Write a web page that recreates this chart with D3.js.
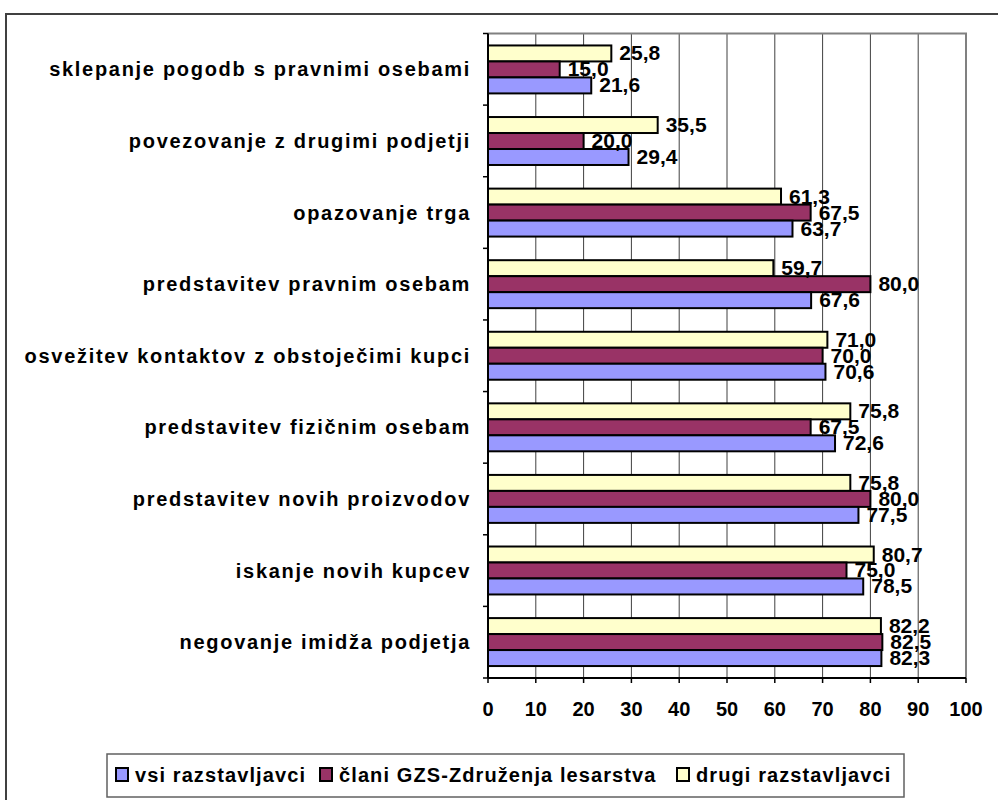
<!DOCTYPE html>
<html>
<head>
<meta charset="utf-8">
<script src="https://cdn.jsdelivr.net/npm/d3@7"></script>
<style>
  html, body { margin: 0; padding: 0; background: #fff; }
  svg { display: block; font-family: "Liberation Sans", Arial, sans-serif; font-weight: bold; }
</style>
</head>
<body>
<svg id="chart" width="998" height="800"></svg>
<script>
const categories = [
  "sklepanje pogodb s pravnimi osebami",
  "povezovanje z drugimi podjetji",
  "opazovanje trga",
  "predstavitev pravnim osebam",
  "osvežitev kontaktov z obstoječimi kupci",
  "predstavitev fizičnim osebam",
  "predstavitev novih proizvodov",
  "iskanje novih kupcev",
  "negovanje imidža podjetja"
];
const vsi   = [21.6, 29.4, 63.7, 67.6, 70.6, 72.6, 77.5, 78.5, 82.3];
const clani = [15.0, 20.0, 67.5, 80.0, 70.0, 67.5, 80.0, 75.0, 82.5];
const drugi = [25.8, 35.5, 61.3, 59.7, 71.0, 75.8, 75.8, 80.7, 82.2];
const seriesNames = ["vsi razstavljavci", "člani GZS-Združenja lesarstva", "drugi razstavljavci"];
const xTicks = [0, 10, 20, 30, 40, 50, 60, 70, 80, 90, 100];

const colors = { vsi: "#9999FF", clani: "#993366", drugi: "#FFFFCC" };
const series = [
  { key: "drugi", values: drugi },
  { key: "clani", values: clani },
  { key: "vsi", values: vsi }
];

const svg = d3.select("#chart");
svg.append("rect").attr("width", 998).attr("height", 800).attr("fill", "#fff");

// outer chart border
svg.append("rect").attr("x", 6).attr("y", 14).attr("width", 1100).attr("height", 900)
  .attr("fill", "none").attr("stroke", "#404040").attr("stroke-width", 2);

const pLeft = 488, pRight = 966, pTop = 33.5, pBottom = 678;
const x = d3.scaleLinear().domain([0, 100]).range([pLeft, pRight]);
const y = d3.scaleBand().domain(categories).range([pTop, pBottom]).paddingInner(0.33).paddingOuter(0.167);
const yOuter = d3.scaleBand().domain(categories).range([pTop, pBottom]);
const ySub = d3.scaleBand().domain(series.map(s => s.key)).range([0, y.bandwidth()]);

// gridlines
svg.append("g").selectAll("line").data(xTicks.filter(t => t > 0 && t < 100)).join("line")
  .attr("x1", d => x(d)).attr("x2", d => x(d)).attr("y1", pTop).attr("y2", pBottom)
  .attr("stroke", "#404040").attr("stroke-width", 1);

// plot border top/right
svg.append("path")
  .attr("d", `M${pLeft},${pTop}H${pRight}V${pBottom}`)
  .attr("fill", "none").attr("stroke", "#808080").attr("stroke-width", 2);

// bars
const groups = svg.append("g").selectAll("g").data(categories).join("g")
  .attr("transform", d => `translate(0,${y(d)})`);
series.forEach(s => {
  groups.append("rect")
    .attr("x", x(0))
    .attr("y", ySub(s.key))
    .attr("width", (d, i) => x(s.values[i]) - x(0))
    .attr("height", ySub.bandwidth())
    .attr("fill", colors[s.key])
    .attr("stroke", "#000").attr("stroke-width", 2);
});

// value labels
const fmt = v => d3.format(".1f")(v).replace(".", ",");
series.forEach(s => {
  groups.append("text")
    .attr("x", (d, i) => x(s.values[i]) + 8)
    .attr("y", ySub(s.key) + ySub.bandwidth() / 2 + 7)
    .attr("font-size", 21)
    .attr("fill", "#000")
    .text((d, i) => fmt(s.values[i]));
});

// y axis
const yAxis = svg.append("g");
yAxis.append("line").attr("x1", pLeft).attr("x2", pLeft).attr("y1", pTop).attr("y2", pBottom)
  .attr("stroke", "#000").attr("stroke-width", 2);
const bounds = categories.map(c => yOuter(c)).concat([pBottom]);
yAxis.selectAll("line.tick").data(bounds).join("line").attr("class", "tick")
  .attr("x1", pLeft - 5).attr("x2", pLeft).attr("y1", d => d).attr("y2", d => d)
  .attr("stroke", "#000").attr("stroke-width", 1.5);
yAxis.selectAll("text").data(categories).join("text")
  .attr("x", 471).attr("y", d => yOuter(d) + yOuter.bandwidth() / 2 + 7)
  .attr("text-anchor", "end").attr("font-size", 20).attr("letter-spacing", 1.7)
  .text(d => d);

// x axis
const xAxis = svg.append("g");
xAxis.append("line").attr("x1", pLeft).attr("x2", pRight).attr("y1", pBottom).attr("y2", pBottom)
  .attr("stroke", "#000").attr("stroke-width", 2);
xAxis.selectAll("line.tick").data(xTicks).join("line").attr("class", "tick")
  .attr("x1", d => x(d)).attr("x2", d => x(d)).attr("y1", pBottom).attr("y2", pBottom + 5)
  .attr("stroke", "#000").attr("stroke-width", 1.5);
xAxis.selectAll("text").data(xTicks).join("text")
  .attr("x", d => x(d)).attr("y", 716).attr("text-anchor", "middle").attr("font-size", 20)
  .text(d => d);

// legend
const lg = svg.append("g");
lg.append("rect").attr("x", 107).attr("y", 754).attr("width", 797).attr("height", 43)
  .attr("fill", "#fff").attr("stroke", "#606060").attr("stroke-width", 1.5);
const legendKeys = ["vsi", "clani", "drugi"];
const legendX = [116, 320, 677];
legendKeys.forEach((k, i) => {
  lg.append("rect").attr("x", legendX[i]).attr("y", 768).attr("width", 12).attr("height", 13)
    .attr("fill", colors[k]).attr("stroke", "#000").attr("stroke-width", 2);
  lg.append("text").attr("x", legendX[i] + 19).attr("y", 782).attr("font-size", 20)
    .attr("letter-spacing", 1.1).text(seriesNames[i]);
});
</script>
</body>
</html>
